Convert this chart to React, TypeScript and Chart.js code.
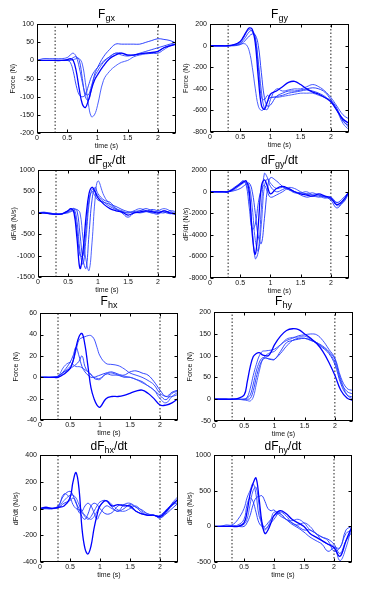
import React, { useEffect, useRef } from 'react';
import { Chart, registerables } from 'chart.js';

Chart.register(...registerables);

// ---------- data ----------
const time = [0, 0.1, 0.2, 0.3, 0.4, 0.5, 0.55, 0.6, 0.65, 0.7, 0.75, 0.8, 0.85, 0.9, 0.95, 1.0, 1.1, 1.2, 1.3, 1.4, 1.5, 1.6, 1.7, 1.8, 1.9, 2.0, 2.1, 2.2, 2.3];
const markerTimes = [0.3, 2.0];
const xTickValues = [0, 0.5, 1, 1.5, 2];

// F_gx (N)
const fgx1 = [0, 0, 0, 0, 0, 2, 5, 0, -30, -80, -120, -130, -110, -80, -55, -40, -15, 5, 15, 20, 15, 15, 18, 20, 22, 25, 35, 40, 45];
const fgx2 = [0, 5, 5, 5, 5, 8, 15, 20, 10, -20, -60, -90, -95, -70, -45, -30, -5, 10, 20, 15, 12, 15, 18, 20, 20, 20, 30, 40, 45];
const fgx3 = [0, 0, 0, 0, 0, 0, 2, 8, 10, 0, -50, -100, -110, -80, -40, -20, 10, 30, 45, 45, 45, 45, 45, 50, 55, 60, 58, 55, 48];
const fgx4 = [0, 0, 0, 0, 0, 0, 0, 2, 5, 5, -10, -60, -120, -155, -150, -125, -55, -30, -15, -5, 0, 10, 15, 18, 20, 25, 35, 42, 45];
const fgx5 = [0, 0, 0, 0, 0, 0, -5, -30, -70, -95, -100, -95, -70, -45, -30, -20, -2, 10, 20, 20, 15, 15, 20, 25, 30, 35, 40, 45, 50];

// F_gy (N)
const fgy1 = [0, 0, 0, 0, 10, 40, 80, 130, 165, 150, 20, -300, -550, -590, -520, -450, -420, -380, -340, -330, -360, -400, -430, -450, -480, -520, -600, -680, -720];
const fgy2 = [0, 0, 0, 0, 5, 20, 50, 90, 130, 140, 80, -150, -420, -580, -590, -500, -400, -420, -410, -400, -400, -380, -360, -380, -420, -480, -560, -640, -680];
const fgy3 = [0, 0, 0, 0, 0, 10, 30, 60, 90, 110, 100, 0, -250, -480, -560, -550, -470, -440, -420, -420, -410, -400, -390, -400, -430, -500, -580, -700, -740];
const fgy4 = [0, 0, 0, 0, 5, 15, 20, 10, -50, -200, -400, -560, -600, -580, -520, -480, -480, -470, -460, -450, -440, -440, -440, -460, -480, -510, -600, -720, -780];
const fgy5 = [0, 0, 0, 0, 8, 30, 70, 120, 150, 130, 60, -200, -480, -500, -460, -480, -470, -460, -440, -430, -420, -410, -420, -440, -470, -520, -600, -690, -760];

// dF_gx/dt (N/s)
const dfgx1 = [0, 0, -20, -30, -20, 50, 100, 0, -600, -1300, -900, -100, 450, 600, 500, 350, 200, 100, 50, 20, -50, 0, 20, 50, 30, 0, 50, 0, -30];
const dfgx2 = [0, 20, -10, -30, -20, 30, 80, 100, -200, -900, -1200, -600, 200, 550, 500, 400, 250, 150, 80, 30, 0, 30, 50, 30, 0, -30, 50, 0, 0];
const dfgx3 = [0, 0, -20, -40, -20, 20, 50, 100, 50, -500, -1100, -1300, -500, 300, 600, 450, 300, 250, 100, 0, -100, 0, 50, 100, 50, 20, 0, 50, 30];
const dfgx4 = [0, 0, 0, -30, -20, 0, 30, 60, 80, 0, -600, -1100, -1350, -700, 300, 750, 400, 200, 100, 50, 0, 50, 100, 50, 0, 50, 100, 50, -50];
const dfgx5 = [0, 0, -10, -20, -30, 60, 100, 50, -400, -1000, -1000, -400, 300, 500, 400, 300, 250, 200, 150, 80, 30, 20, 0, 30, 80, 50, 20, -20, 0];

// dF_gy/dt (N/s)
const dfgy1 = [0, 0, 0, 0, 300, 700, 900, 1000, 0, -4000, -5800, -3000, 500, 1100, 500, -200, 300, 500, 300, 0, -200, -300, -400, -200, -400, -600, -1200, -800, 0];
const dfgy2 = [0, 0, 0, 50, 400, 800, 1000, 800, -500, -3500, -6200, -5500, -1500, 1700, 1300, 500, 0, 200, 400, 300, 0, -200, -100, -300, -500, -500, -1000, -1000, -100];
const dfgy3 = [0, 0, 0, 0, 100, 300, 500, 700, 800, 0, -2000, -4200, -4800, -2500, 200, 1300, 1000, 500, 200, 0, -300, -500, -400, -500, -400, -800, -1500, -900, 0];
const dfgy4 = [0, 0, 0, 0, 200, 600, 800, 900, 500, -1500, -4500, -5500, -3000, 500, 1200, 800, 300, 400, 200, -100, -100, 0, -300, -400, -600, -500, -1300, -1000, 0];
const dfgy5 = [0, 0, 0, 0, 300, 800, 1000, 600, -1500, -3500, -3000, -1000, 200, 600, 0, -500, -300, 0, 300, 0, -100, -200, -300, -300, -500, -700, -1000, -600, 0];

// F_hx (N)
const fhx1 = [0, 0, 0, 0, 3, 8, 15, 28, 38, 41, 30, 10, -10, -20, -26, -28, -20, -18, -18, -17, -15, -13, -12, -15, -20, -26, -26, -24, -20];
const fhx2 = [0, 0, 0, 1, 5, 10, 15, 25, 35, 37, 38, 39, 39, 36, 28, 20, 13, 12, 11, 8, 4, 2, 0, -3, -7, -15, -18, -18, -16];
const fhx3 = [0, 0, 0, 1, 6, 14, 20, 28, 20, 10, 5, 2, 0, 0, 1, 2, 4, 5, 3, 2, 5, 6, 4, 2, -4, -12, -18, -14, -12];
const fhx4 = [0, 0, 0, 1, 10, 14, 12, 10, 10, 9, 7, 5, 2, 0, -1, -1, 3, 4, 2, 1, 0, -2, -5, -8, -12, -20, -24, -18, -14];
const fhx5 = [0, 0, 0, 1, 5, 8, 10, 12, 15, 20, 10, 5, 3, -1, -2, -2, 3, 2, 2, 0, 0, -2, -4, -8, -12, -17, -21, -15, -13];

// F_hy (N)
const fhy1 = [0, 0, 0, 0, 2, 10, 40, 75, 98, 105, 107, 102, 100, 100, 110, 125, 145, 158, 162, 160, 150, 140, 128, 110, 85, 55, 20, 3, -3];
const fhy2 = [0, 0, 0, 0, 0, 0, 5, 25, 55, 80, 100, 110, 111, 112, 113, 115, 125, 135, 140, 146, 148, 150, 148, 135, 115, 95, 50, 25, 20];
const fhy3 = [0, 0, 0, 0, 0, 0, 0, 2, 20, 50, 75, 90, 95, 93, 91, 91, 110, 130, 135, 138, 140, 136, 128, 118, 105, 80, 35, 10, 5];
const fhy4 = [0, 0, 0, 0, 0, -2, -3, -4, 5, 35, 65, 90, 100, 105, 108, 110, 125, 138, 142, 143, 145, 138, 130, 120, 108, 85, 45, 10, 0];
const fhy5 = [0, 0, 0, 0, 0, 0, 3, 10, 35, 65, 85, 95, 95, 93, 92, 92, 105, 122, 135, 140, 140, 135, 130, 122, 110, 92, 40, 18, 12];

// dF_hx/dt (N/s)
const dfhx1 = [0, 10, 0, 10, 20, 80, 200, 270, 150, -150, -300, -340, -280, -150, -50, 20, 60, 20, 30, 20, 20, -20, -40, -50, -50, -60, -20, 30, 70];
const dfhx2 = [0, 5, 5, 10, 110, 80, 30, 0, -10, -30, -60, -80, -60, -20, 20, 50, 60, 10, -20, 30, 40, 10, -30, -50, -50, -70, -30, 20, 60];
const dfhx3 = [0, 0, 0, 20, 100, 130, 100, 40, 0, -60, -80, -40, 20, 40, 30, 0, -40, -30, 20, 30, 10, -20, -40, -50, -50, -70, -40, 0, 40];
const dfhx4 = [0, 0, 0, 10, 60, 100, 100, 80, 30, -20, -50, -70, -80, -60, -20, 20, 60, 30, -10, -20, 0, 20, -20, -40, -50, -60, -30, 40, 90];
const dfhx5 = [0, 0, 0, 5, 40, 60, 80, 50, -30, -20, 20, 40, 20, -30, -80, -40, 20, 0, -20, 0, 30, 10, -10, -40, -50, -50, -10, 30, 40];

// dF_hy/dt (N/s)
const dfhy1 = [0, 0, 0, 0, 0, 50, 200, 450, 600, 680, 400, 50, -100, -50, 50, 150, 220, 180, 100, 50, 0, -100, -150, -200, -250, -300, -420, -200, 0];
const dfhy2 = [0, 0, 20, 20, 100, 250, 400, 500, 600, 450, 150, 50, -30, 0, 50, 100, 200, 150, 50, 20, 50, 0, -100, -150, -200, -350, -300, -100, -50];
const dfhy3 = [0, 0, 0, 0, 0, 0, 50, 150, 300, 400, 420, 430, 350, 250, 220, 230, 150, 100, 50, 0, -50, -50, -100, -150, -180, -250, -380, -200, -80];
const dfhy4 = [0, 0, 0, 0, 0, 30, 100, 300, 500, 550, 300, 0, -50, 0, 100, 200, 180, 100, 80, 100, 50, -50, -100, -200, -250, -280, -480, -300, 20];
const dfhy5 = [0, 0, 0, 10, 20, 100, 300, 400, 350, 200, 50, 0, 0, 50, 100, 150, 180, 100, 30, -20, -80, -150, -200, -250, -350, -300, -300, -50, 0];

// ---------- layout / panels ----------
type Panel = {
  pre: string; sub: string; post: string; yLabel: string;
  yMin: number; yMax: number; yStep: number;
  left: number; top: number; w: number; h: number; titleTop: number;
  series: number[][];
};

const panels: Panel[] = [
  { pre: 'F', sub: 'gx', post: '', yLabel: 'Force (N)', yMin: -200, yMax: 100, yStep: 50, left: 37, top: 23, w: 139, h: 110, titleTop: 8, series: [fgx1, fgx2, fgx3, fgx4, fgx5] },
  { pre: 'F', sub: 'gy', post: '', yLabel: 'Force (N)', yMin: -800, yMax: 200, yStep: 200, left: 210, top: 23, w: 139, h: 109, titleTop: 8, series: [fgy1, fgy2, fgy3, fgy4, fgy5] },
  { pre: 'dF', sub: 'gx', post: '/dt', yLabel: 'dF/dt (N/s)', yMin: -1500, yMax: 1000, yStep: 500, left: 38, top: 169, w: 138, h: 108, titleTop: 154, series: [dfgx1, dfgx2, dfgx3, dfgx4, dfgx5] },
  { pre: 'dF', sub: 'gy', post: '/dt', yLabel: 'dF/dt (N/s)', yMin: -8000, yMax: 2000, yStep: 2000, left: 210, top: 169, w: 139, h: 109, titleTop: 154, series: [dfgy1, dfgy2, dfgy3, dfgy4, dfgy5] },
  { pre: 'F', sub: 'hx', post: '', yLabel: 'Force (N)', yMin: -40, yMax: 60, yStep: 20, left: 40, top: 312, w: 138, h: 108, titleTop: 295, series: [fhx1, fhx2, fhx3, fhx4, fhx5] },
  { pre: 'F', sub: 'hy', post: '', yLabel: 'Force (N)', yMin: -50, yMax: 200, yStep: 50, left: 214, top: 311, w: 139, h: 110, titleTop: 295, series: [fhy1, fhy2, fhy3, fhy4, fhy5] },
  { pre: 'dF', sub: 'hx', post: '/dt', yLabel: 'dF/dt (N/s)', yMin: -400, yMax: 400, yStep: 200, left: 40, top: 454, w: 138, h: 108, titleTop: 440, series: [dfhx1, dfhx2, dfhx3, dfhx4, dfhx5] },
  { pre: 'dF', sub: 'hy', post: '/dt', yLabel: 'dF/dt (N/s)', yMin: -500, yMax: 1000, yStep: 500, left: 214, top: 454, w: 138, h: 108, titleTop: 440, series: [dfhy1, dfhy2, dfhy3, dfhy4, dfhy5] },
];

const Y_AXIS_W = 37;
const X_AXIS_H = 18;
const PAD_TOP = 6;
const PAD_RIGHT = 4;
const FONT = "'Liberation Sans', Arial, Helvetica, sans-serif";
const lineColors = ['#0000ff', '#2a40ff', '#1a30ff', '#3a50ff', '#2038ff'];
const lineWidths = [1.3, 0.9, 0.9, 0.9, 0.9];

const framePlugin = {
  id: 'matlabFrame',
  afterDatasetsDraw(chart: any) {
    const { ctx, chartArea: a, scales } = chart;
    ctx.save();
    ctx.strokeStyle = '#000';
    ctx.lineWidth = 1;
    const L = Math.round(a.left) + 0.5;
    const T = Math.round(a.top) + 0.5;
    const R = Math.round(a.right) - 0.5;
    const B = Math.round(a.bottom) - 0.5;
    ctx.strokeRect(L, T, R - L, B - T);
    ctx.beginPath();
    const tl = 3;
    for (const t of scales.x.ticks) {
      const px = Math.round(scales.x.getPixelForValue(t.value)) + 0.5;
      ctx.moveTo(px, B); ctx.lineTo(px, B - tl);
      ctx.moveTo(px, T); ctx.lineTo(px, T + tl);
    }
    for (const t of scales.y.ticks) {
      const py = Math.round(scales.y.getPixelForValue(t.value)) + 0.5;
      ctx.moveTo(L, py); ctx.lineTo(L + tl, py);
      ctx.moveTo(R, py); ctx.lineTo(R - tl, py);
    }
    ctx.stroke();
    ctx.restore();
  },
};

function PanelChart({ p }: { p: Panel }) {
  const ref = useRef<HTMLCanvasElement>(null);
  const cw = Y_AXIS_W + p.w + PAD_RIGHT;
  const ch = PAD_TOP + p.h + X_AXIS_H;

  useEffect(() => {
    if (!ref.current) return;
    const datasets: any[] = p.series.map((s, i) => ({
      data: time.map((t, k) => ({ x: t, y: s[k] })),
      borderColor: lineColors[i % lineColors.length],
      borderWidth: lineWidths[i % lineWidths.length],
      pointRadius: 0,
      tension: 0.4,
      fill: false,
    }));
    markerTimes.forEach((m) => {
      datasets.push({
        data: [{ x: m, y: p.yMin }, { x: m, y: p.yMax }],
        borderColor: '#222',
        borderWidth: 1,
        borderDash: [1.5, 2],
        pointRadius: 0,
        tension: 0,
        fill: false,
      });
    });
    const chart = new Chart(ref.current, {
      type: 'line',
      data: { datasets },
      plugins: [framePlugin],
      options: {
        animation: false,
        responsive: false,
        devicePixelRatio: 1,
        layout: { padding: { top: PAD_TOP, right: PAD_RIGHT, left: 0, bottom: 0 } },
        plugins: { legend: { display: false }, tooltip: { enabled: false }, title: { display: false } },
        scales: {
          x: {
            type: 'linear',
            min: 0,
            max: 2.3,
            afterBuildTicks: (scale: any) => { scale.ticks = xTickValues.map((v) => ({ value: v })); },
            afterFit: (scale: any) => { scale.height = X_AXIS_H; },
            grid: { display: false, drawTicks: false },
            border: { display: false },
            ticks: { padding: 1, color: '#111', font: { family: FONT, size: 7 }, maxRotation: 0, autoSkip: false, callback: (v: any) => String(v) },
            title: { display: true, text: 'time (s)', color: '#111', font: { family: FONT, size: 7 }, padding: { top: 0, bottom: 1 } },
          },
          y: {
            type: 'linear',
            min: p.yMin,
            max: p.yMax,
            ticks: { stepSize: p.yStep, padding: 3, color: '#111', font: { family: FONT, size: 7 }, callback: (v: any) => String(v) },
            afterFit: (scale: any) => { scale.width = Y_AXIS_W; },
            grid: { display: false, drawTicks: false },
            border: { display: false },
            title: { display: true, text: p.yLabel, color: '#111', font: { family: FONT, size: 7 }, padding: { top: 9, bottom: 0 } },
          },
        },
      },
    } as any);
    return () => chart.destroy();
  }, [p]);

  return (
    <>
      <canvas
        ref={ref}
        width={cw}
        height={ch}
        style={{ position: 'absolute', left: p.left - Y_AXIS_W, top: p.top - PAD_TOP, width: cw, height: ch }}
      />
      <div
        style={{
          position: 'absolute', left: p.left, top: p.titleTop, width: p.w, textAlign: 'center',
          fontFamily: FONT, fontSize: 12, lineHeight: '12px', color: '#000', whiteSpace: 'nowrap',
        }}
      >
        {p.pre}
        <span style={{ fontSize: 9, position: 'relative', top: 3 }}>{p.sub}</span>
        {p.post}
      </div>
    </>
  );
}

export default function App() {
  return (
    <div style={{ position: 'absolute', left: 0, top: 0, width: 374, height: 592, background: '#fff', overflow: 'hidden' }}>
      {panels.map((p, i) => (
        <PanelChart key={i} p={p} />
      ))}
    </div>
  );
}
